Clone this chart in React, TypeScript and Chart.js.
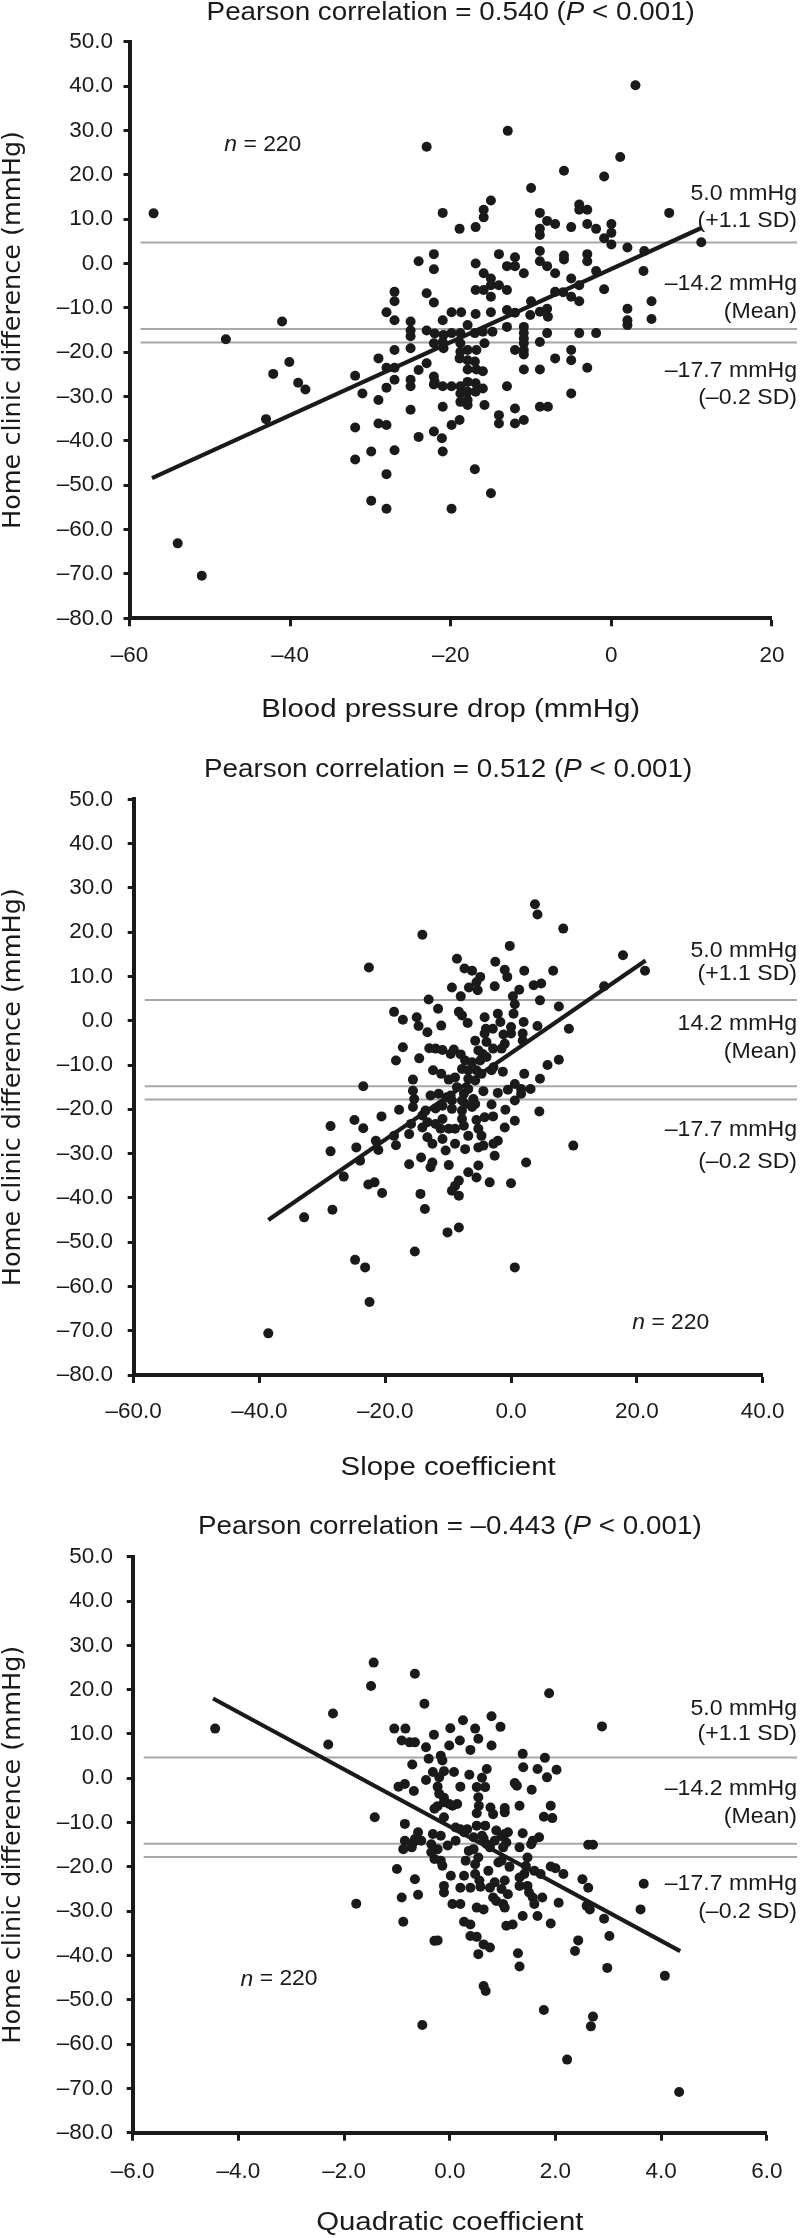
import React, { useEffect, useRef } from "react";
import { Chart, registerables } from "chart.js";

Chart.register(...registerables);

type Pt = [number, number];

// ---------- DATA ----------
const BP_DROP_POINTS: Pt[] = [
  [-57.0, 11.3], [-48.0, -17.1], [-41.0, -13.1], [3.0, 40.2], [-40.1, -22.2], [-42.1, -24.9], [-39.0, -26.9], [-38.1, -28.4], [-43.0, -35.1], [-54.0, -63.1], [-51.0, -70.4],
  [-12.9, 29.9], [-23.0, 26.3], [1.1, 24.0], [-5.9, 20.9], [-0.9, 19.6], [-10.0, 17.0], [-15.0, 14.2], [-4.0, 13.3], [-4.0, 12.1], [-3.0, 12.1], [-15.9, 12.1], [-15.9, 10.4], [-21.0, 11.4], [-8.9, 11.4], [7.2, 11.4], [-8.0, 9.6], [-7.0, 8.9], [-3.0, 8.9], [0.0, 8.9], [-16.9, 8.2], [-18.9, 7.8], [-8.9, 7.8], [-5.0, 8.2], [-1.9, 7.8], [0.0, 6.9], [-8.9, 6.4], [-0.9, 5.7], [11.2, 4.8], [0.0, 4.3], [2.0, 3.6], [4.1, 2.8], [-8.9, 2.8], [-14.0, 2.1], [-22.1, 2.1], [-5.9, 1.8], [-3.0, 2.1], [-5.9, 0.9], [-3.0, 0.5], [-24.0, 0.5], [-16.9, 0.0], [-12.0, 1.4], [-8.9, 0.5], [-12.0, -0.6], [-13.0, -0.6], [-8.0, -0.6], [-7.0, -2.2], [-10.9, -2.2], [-15.9, -2.2], [-22.1, -1.3], [4.0, -1.7], [-1.9, -1.7], [-5.0, -3.4], [-4.0, -4.9], [-15.0, -4.9], [-14.0, -4.9], [-13.0, -6.0], [-16.9, -6.0], [-15.9, -6.0], [-27.0, -6.4], [-7.0, -6.4], [-0.9, -5.8], [-23.0, -6.7], [-15.0, -7.5], [-5.0, -7.5], [-4.0, -8.5], [-10.0, -8.5], [-27.0, -8.5], [-22.1, -8.8], [5.0, -8.5], [2.0, -10.2], [-28.0, -11.0], [-13.0, -10.5], [-8.0, -10.2], [-19.9, -11.0], [-18.7, -11.0], [-15.0, -11.0], [-16.9, -11.4], [-7.9, -12.0], [5.0, -12.5], [2.0, -12.8], [-27.0, -12.8], [-21.0, -12.8], [-25.0, -13.1], [2.0, -13.9], [-17.9, -13.9], [-13.0, -14.3], [-10.9, -14.3], [-25.0, -15.1], [-23.0, -15.1], [-4.0, -15.7], [-1.9, -15.7], [-18.8, -15.7], [-19.9, -15.7], [-10.9, -15.7], [-17.0, -15.7], [-8.0, -15.7], [-25.0, -16.4], [-21.0, -17.7], [-18.8, -18.0], [-22.1, -18.0], [-10.9, -18.0], [-8.9, -17.7], [-15.8, -18.0], [-25.0, -19.1], [-27.0, -19.5], [-17.9, -19.5], [-16.8, -19.5], [-12.0, -19.5], [-10.9, -19.5], [-5.0, -19.5], [-18.8, -19.9], [-29.0, -21.4], [-7.0, -21.4], [-17.9, -21.8], [-5.0, -21.8], [-27.0, -23.5], [-28.0, -23.5], [-3.0, -23.5], [-10.9, -23.9], [-8.9, -23.9], [-17.9, -23.9], [-16.8, -23.9], [-23.0, -22.5], [-31.9, -25.3], [-22.1, -25.5], [-27.0, -26.2], [-25.0, -26.2], [-21.0, -27.7], [-19.9, -27.7], [-18.8, -27.7], [-28.0, -28.0], [-22.1, -27.3], [-25.0, -27.7], [-13.0, -27.7], [-17.9, -28.9], [-16.9, -27.0], [-16.9, -28.9], [-18.8, -29.3], [-31.0, -29.3], [-5.0, -29.3], [-29.0, -30.8], [-18.8, -31.2], [-17.9, -31.9], [-15.8, -31.9], [-21.0, -32.3], [-12.0, -32.7], [-8.9, -32.3], [-7.9, -32.3], [-25.0, -33.0], [-14.0, -34.2], [-10.9, -35.3], [-18.9, -35.3], [-29.0, -36.1], [-28.0, -36.4], [-19.9, -36.4], [-14.0, -36.1], [-12.0, -36.1], [-31.9, -37.0], [-22.1, -37.9], [-21.1, -39.4], [-24.0, -39.1], [-29.9, -42.4], [-27.0, -42.1], [-21.0, -42.4], [-31.9, -44.2], [-17.0, -46.4], [-28.0, -47.5], [-15.0, -51.8], [-29.9, -53.5], [-28.0, -55.3], [-19.9, -55.3],
  [-15.0, -3.4], [-6.0, -6.5], [-12.0, -11.1], [-8.9, -10.9], [-10.1, -11.6], [-22.0, -15.8], [-20.9, -16.1], [-16.0, -15.4], [-14.8, -15.4], [-10.9, -16.9], [-20.9, -19.1], [-10.9, -20.5], [-24.0, -24.0], [-18.9, -21.4], [-17.0, -22.1], [-16.0, -24.3], [-22.0, -26.7], [-17.9, -26.7], [-16.0, -28.2], [-17.9, -30.8],
];

const SLOPE_POINTS: Pt[] = [
  [3.8, 26.3], [4.2, 24.0], [8.3, 20.8], [-14.1, 19.4], [-0.2, 16.9], [17.8, 14.8], [-8.6, 14.0], [-2.5, 13.3], [-22.6, 12.0], [-7.4, 11.8], [-6.2, 11.3], [-1.0, 11.5], [2.1, 11.3], [6.7, 11.3], [21.3, 11.3], [-4.9, 9.9], [-0.6, 9.9], [-5.5, 8.7], [-6.7, 7.5], [-5.3, 6.9], [-2.6, 7.8], [-9.4, 7.5], [3.6, 8.0], [4.8, 8.4], [14.8, 7.8], [1.3, 7.0], [-8.0, 5.5], [0.3, 5.5], [-13.1, 4.8], [4.6, 4.6], [7.6, 3.2], [-11.6, 2.7], [0.6, 3.7], [-18.6, 2.0], [-8.3, 2.0], [-2.1, 1.6], [-7.8, 1.2], [-4.2, 0.8], [0.4, 1.6], [2.0, -0.3], [-17.2, 0.2], [-15.0, 0.8], [-11.1, -1.1], [-1.7, -0.3], [4.2, -1.2], [9.2, -1.8], [-13.3, -2.6], [-4.0, -1.8], [-4.2, -2.9], [-1.2, -3.1], [0.0, -1.4], [-5.7, -4.5], [-17.2, -6.0], [-13.0, -6.2], [-12.0, -6.3], [-10.9, -6.6], [-9.6, -7.5], [-8.0, -7.6], [-1.0, -5.2], [-1.5, -6.3], [-5.2, -6.7], [-4.5, -7.5], [-18.3, -9.0], [-14.6, -8.5], [-7.3, -9.0], [-6.2, -9.4], [-4.9, -9.0], [-3.9, -8.2], [7.6, -8.8], [5.8, -10.0], [-12.4, -11.2], [-11.1, -12.0], [-9.9, -13.3], [-7.8, -10.9], [-6.8, -11.2], [-5.5, -11.2], [-4.7, -12.0], [-2.8, -10.5], [-1.3, -11.5], [2.1, -12.0], [4.6, -13.1], [-15.6, -13.3], [-8.9, -12.8], [-6.8, -13.1], [-5.7, -13.5], [0.6, -14.3], [-23.5, -14.8], [-15.6, -15.8], [-15.4, -17.7], [-11.5, -16.5], [-10.2, -17.3], [-8.6, -15.0], [-6.8, -15.4], [-4.4, -15.9], [-2.1, -16.3], [-0.5, -15.6], [3.1, -15.4], [1.6, -15.4], [-9.4, -18.0], [-7.8, -18.0], [-6.0, -17.7], [0.6, -18.0], [-15.6, -19.5], [-10.9, -19.2], [-9.4, -19.9], [-7.8, -20.3], [-6.2, -19.5], [-3.1, -18.9], [-0.9, -20.1], [4.5, -20.5], [-17.8, -20.1], [-13.6, -20.3], [-20.6, -21.6], [-24.9, -22.4], [-28.7, -23.8], [-23.5, -24.3], [-10.9, -22.2], [-14.1, -21.4], [-4.2, -21.8], [-5.5, -22.4], [0.6, -22.6], [-15.9, -23.3], [-14.1, -24.1], [-12.0, -23.3], [-9.9, -24.4], [-7.5, -23.7], [-5.2, -24.4], [-16.2, -25.6], [-13.3, -26.3], [-12.5, -27.8], [-10.9, -26.7], [-8.9, -27.8], [-6.8, -26.0], [-4.7, -26.0], [-1.0, -24.1], [-2.1, -27.1], [-2.8, -27.8], [-7.3, -29.0], [-5.2, -28.6], [-21.5, -27.1], [-18.6, -26.0], [-21.1, -29.2], [-24.6, -28.6], [-28.7, -29.5], [-24.0, -31.6], [-16.2, -32.4], [-14.3, -30.9], [-12.8, -33.1], [-9.9, -32.6], [-5.2, -32.7], [2.4, -32.0], [9.9, -28.2], [-26.6, -35.2], [-6.8, -34.2], [-5.5, -35.4], [-8.3, -36.1], [-8.9, -37.3], [-3.4, -36.5], [0.0, -36.7], [-22.7, -37.0], [-21.7, -36.5], [-20.5, -38.9], [-9.4, -38.4], [-8.3, -39.5], [-14.4, -39.1], [-13.7, -42.5], [-28.4, -42.7], [-32.9, -44.4], [-8.3, -46.7], [-10.1, -47.8], [-15.3, -52.1], [-24.8, -54.0], [-23.2, -55.7], [0.6, -55.7], [-38.6, -70.6], [-22.5, -63.5],
  [-6.9, -0.5], [-14.7, -1.2], [-2.9, -1.8], [0.0, -2.9], [1.85, -2.9], [-9.1, -6.5], [-3.9, -4.8], [-2.85, -6.3], [1.85, -4.45], [-3.1, -11.2], [1.6, -16.5], [-12.8, -16.9], [-9.6, -16.9], [-7.5, -16.5], [-7.3, -18.8], [-5.7, -18.8], [-12.0, -19.8], [-2.85, -21.6], [-7.8, -22.2], [-13.3, -22.9], [-11.2, -24.4], [-8.9, -24.4], [-18.3, -28.1], [-10.4, -29.3], [-4.4, -28.2], [-12.5, -32.0], [-2.6, -30.5],
];

const QUADRATIC_POINTS: Pt[] = [
  [-1.44, 26.1], [-0.66, 23.6], [-1.49, 20.8], [1.88, 19.2], [-0.48, 16.8], [-2.21, 14.6], [0.79, 14.0], [0.25, 13.1], [0.96, 11.6], [2.88, 11.7], [-1.05, 11.2], [-0.84, 11.2], [0.01, 11.3], [0.48, 11.2], [-0.3, 9.8], [0.54, 8.9], [0.19, 8.5], [-0.91, 8.5], [-0.76, 8.1], [-0.66, 8.1], [-2.3, 7.6], [-0.45, 7.0], [0.79, 7.4], [0.39, 6.4], [1.38, 5.5], [1.8, 4.6], [-0.17, 5.1], [-0.4, 4.4], [-0.14, 4.0], [-0.71, 3.1], [1.39, 2.5], [1.66, 2.1], [2.02, 1.9], [0.7, 2.1], [-0.11, 1.6], [0.08, 1.4], [-0.32, 1.4], [0.37, 0.8], [1.84, 0.2], [0.61, 0.1], [-0.45, -0.4], [-0.2, 0.2], [-0.97, -1.9], [-0.85, -1.3], [-0.68, -2.9], [0.2, -1.9], [1.23, -1.1], [1.27, -1.7], [1.55, -2.6], [-0.23, -1.9], [0.67, -2.0], [0.51, -2.0], [-0.2, -3.5], [-0.11, -5.4], [0.14, -5.8], [0.05, -6.2], [-0.23, -6.3], [0.54, -4.3], [-0.11, -4.4], [0.77, -6.6], [1.04, -6.7], [1.32, -6.2], [1.91, -6.2], [-1.42, -8.8], [-0.29, -6.9], [-0.01, -5.8], [0.51, -7.9], [0.82, -8.1], [1.78, -8.7], [1.94, -9.0], [-0.11, -8.8], [-0.85, -10.3], [-0.6, -12.2], [-0.32, -12.6], [0.11, -11.1], [0.2, -11.5], [0.33, -11.5], [0.88, -11.8], [1.04, -12.6], [1.1, -12.2], [1.38, -12.4], [1.69, -13.3], [0.27, -12.2], [-0.85, -14.1], [-0.69, -14.5], [-0.54, -14.1], [0.64, -13.6], [0.85, -14.1], [1.57, -14.1], [0.11, -14.1], [0.45, -13.3], [0.7, -14.9], [-0.35, -14.9], [-0.23, -16.0], [0.36, -16.4], [0.45, -16.0], [0.76, -15.6], [1.01, -15.6], [1.32, -15.6], [1.54, -14.9], [2.62, -15.0], [2.71, -15.0], [-0.17, -18.6], [0.3, -18.6], [0.54, -17.9], [0.48, -19.4], [0.92, -19.0], [1.13, -20.0], [1.44, -19.8], [-1.0, -20.5], [1.91, -19.9], [2.0, -20.3], [1.41, -21.6], [-0.66, -22.8], [0.02, -22.0], [0.27, -22.0], [0.48, -21.6], [0.56, -23.1], [1.32, -22.4], [2.15, -21.6], [2.51, -22.8], [3.67, -23.8], [-0.11, -24.3], [0.2, -24.7], [0.39, -24.7], [0.58, -24.5], [0.76, -24.7], [1.04, -23.1], [1.47, -24.3], [1.5, -25.8], [2.62, -24.7], [-0.91, -26.9], [-0.6, -26.3], [-1.77, -28.3], [0.05, -28.4], [0.2, -28.4], [0.82, -26.9], [0.88, -27.7], [1.01, -28.4], [1.1, -26.2], [1.75, -26.9], [2.06, -28.1], [1.6, -28.4], [2.59, -28.8], [3.61, -29.6], [2.65, -29.6], [0.51, -29.2], [0.64, -29.6], [1.38, -31.1], [1.07, -33.3], [1.19, -33.0], [-0.88, -32.4], [0.27, -32.4], [0.39, -33.0], [1.91, -32.8], [2.92, -31.7], [0.39, -35.6], [0.51, -35.8], [0.64, -37.5], [0.76, -38.2], [-0.29, -36.7], [-0.23, -36.6], [3.02, -35.6], [2.43, -36.6], [2.37, -39.0], [0.54, -39.7], [1.29, -39.5], [1.32, -42.5], [2.98, -42.8], [4.07, -44.6], [0.64, -46.9], [0.68, -48.0], [1.78, -52.3], [2.71, -53.8], [2.67, -56.0], [-0.52, -55.7], [2.22, -63.5], [4.34, -70.8], [-4.44, 11.2],
  [-0.01, 7.4], [0.55, -6.2], [1.04, -7.7], [0.51, -10.7], [0.67, -10.7], [-0.66, -13.7], [-0.17, -13.0], [0.61, -13.0], [0.98, -13.1], [1.07, -14.5], [-0.88, -16.0], [-0.72, -15.6], [-0.35, -16.7], [-0.04, -15.2], [1.47, -17.9], [-0.29, -18.2], [-0.14, -19.75], [0.98, -18.6], [1.6, -20.9], [1.72, -21.6], [0.73, -20.9], [0.85, -23.5], [-0.11, -25.8], [0.98, -25.0], [1.32, -24.3], [1.57, -26.9], [1.04, -29.2], [1.66, -31.1],
];

// regression line end points
const BP_DROP_FIT: Pt[] = [[-57.2, -48.4], [11.2, 8.0]];
const SLOPE_FIT: Pt[] = [[-38.6, -45.0], [21.4, 13.6]];
const QUADRATIC_FIT: Pt[] = [[-4.48, 18.0], [4.36, -39.0]];

// horizontal reference lines (+1.1 SD, mean, -0.2 SD) as drawn
const REF_LINES = [4.7, -14.8, -17.8];

const TITLES: [string, boolean][][] = [
  [["Pearson correlation = 0.540 (", false], ["P", true], [" < 0.001)", false]],
  [["Pearson correlation = 0.512 (", false], ["P", true], [" < 0.001)", false]],
  [["Pearson correlation = \u20130.443 (", false], ["P", true], [" < 0.001)", false]],
];
const X_TITLES = ["Blood pressure drop (mmHg)", "Slope coefficient", "Quadratic coefficient"];
const Y_TITLE = "Home clinic difference (mmHg)";
const N_TEXT = "220";

const Y_MIN = -80, Y_MAX = 50, Y_STEP = 10;
const X_MINS = [-60, -60, -6];
const X_MAXS = [20, 40, 6];
const X_STEPS = [20, 20, 2];
const X_DECIMALS = [0, 1, 1];

// side annotation labels: [text, y value at which the label sits]
const SIDE_1: [string, number][] = [["5.0 mmHg", 15.7], ["(+1.1 SD)", 9.6], ["\u201314.2 mmHg", -4.6], ["(Mean)", -11.0], ["\u201317.7 mmHg", -24.2], ["(\u20130.2 SD)", -30.4]];
const SIDE_2: [string, number][] = [["5.0 mmHg", 15.8], ["(+1.1 SD)", 10.6], ["14.2 mmHg", -0.7], ["(Mean)", -7.1], ["\u201317.7 mmHg", -24.6], ["(\u20130.2 SD)", -32.0]];
const SIDE_3: [string, number][] = [["5.0 mmHg", 15.7], ["(+1.1 SD)", 10.0], ["\u201314.2 mmHg", -2.4], ["(Mean)", -8.8], ["\u201317.7 mmHg", -23.8], ["(\u20130.2 SD)", -30.1]];
const N_POS: Pt[] = [[-43.4, 26.7], [25.4, -68.2], [-3.23, -45.4]];

// ---------- LAYOUT ----------
const FONT = '"Liberation Sans", Arial, Helvetica, sans-serif';
const YFONT = '"DejaVu Sans", Verdana, sans-serif';
const INK = "#1a1a1a";
const GREY = "#a8a8a8";

const LAYOUT = [
  { top: 0, height: 740, left: 129.5, right: 782, chartTop: 41.7, chartBottom: 618.3, titleOff: 28.5, xTitleOff: 91.7, xPad: 15.5, yPad: 10.5 },
  { top: 740, height: 760, left: 133.7, right: 770.4, chartTop: 59.3, chartBottom: 635, titleOff: 29.3, xTitleOff: 93, xPad: 15.5, yPad: 14.7 },
  { top: 1500, height: 738, left: 132.7, right: 779, chartTop: 56.7, chartBottom: 632.7, titleOff: 29.5, xTitleOff: 90.3, xPad: 17.5, yPad: 13.7 },
];
const X_AXIS_H = 50;

const PANELS = [
  { points: BP_DROP_POINTS, fit: BP_DROP_FIT, side: SIDE_1 },
  { points: SLOPE_POINTS, fit: SLOPE_FIT, side: SIDE_2 },
  { points: QUADRATIC_POINTS, fit: QUADRATIC_FIT, side: SIDE_3 },
];

function fmt(v: number, d: number) {
  const s = Math.abs(v).toFixed(d);
  return (v < -1e-9 ? "\u2013" : "") + s;
}

// draws mixed upright/italic text, with a horizontal stretch factor sx
function drawRich(ctx: any, segs: [string, boolean][], x: number, y: number, size: number, sx: number, align: "center" | "right" | "left") {
  ctx.save();
  ctx.textBaseline = "middle";
  ctx.textAlign = "left";
  ctx.fillStyle = INK;
  const widths = segs.map(([t, it]) => {
    ctx.font = `${it ? "italic " : ""}${size}px ${FONT}`;
    return ctx.measureText(t).width * sx;
  });
  const total = widths.reduce((a, b) => a + b, 0);
  let cx = align === "center" ? x - total / 2 : align === "right" ? x - total : x;
  segs.forEach(([t, it], i) => {
    ctx.save();
    ctx.font = `${it ? "italic " : ""}${size}px ${FONT}`;
    ctx.translate(cx, y);
    ctx.scale(sx, 1);
    ctx.fillText(t, 0, 0);
    ctx.restore();
    cx += widths[i];
  });
  ctx.restore();
}

function makeDecor(i: number) {
  const L = LAYOUT[i];
  const P = PANELS[i];
  return {
    id: "decor" + i,
    beforeDatasetsDraw(chart: any) {
      const { ctx, chartArea: a, scales } = chart;
      ctx.save();
      ctx.strokeStyle = GREY;
      ctx.lineWidth = 2;
      REF_LINES.forEach((v) => {
        const y = scales.y.getPixelForValue(v);
        ctx.beginPath();
        ctx.moveTo(a.left + 11, y);
        ctx.lineTo(797, y);
        ctx.stroke();
      });
      ctx.restore();
    },
    afterDraw(chart: any) {
      const { ctx, chartArea: a, scales } = chart;
      const cx = (a.left + a.right) / 2;
      drawRich(ctx, TITLES[i], cx, a.top - L.titleOff, 25.5, 1.09, "center");
      drawRich(ctx, [[X_TITLES[i], false]], cx, a.bottom + L.xTitleOff, 26, 1.13, "center");
      ctx.save();
      ctx.translate(13, (a.top + a.bottom) / 2);
      ctx.rotate(-Math.PI / 2);
      ctx.font = `25.5px ${YFONT}`;
      ctx.textAlign = "center";
      ctx.textBaseline = "middle";
      ctx.fillStyle = INK;
      ctx.fillText(Y_TITLE, 0, 0);
      ctx.restore();
      P.side.forEach(([t, v]) => drawRich(ctx, [[t, false]], 797, scales.y.getPixelForValue(v), 22, 1.05, "right"));
      const [nx, ny] = N_POS[i];
      drawRich(ctx, [["n", true], [" = " + N_TEXT, false]], scales.x.getPixelForValue(nx), scales.y.getPixelForValue(ny), 22, 1.04, "center");
    },
  };
}

function Panel({ index }: { index: number }) {
  const ref = useRef<HTMLCanvasElement | null>(null);
  const L = LAYOUT[index];
  useEffect(() => {
    const P = PANELS[index];
    const tickFont = { family: FONT, size: 22.5 };
    const chart = new Chart(ref.current as HTMLCanvasElement, {
      type: "scatter",
      data: {
        datasets: [
          {
            type: "line",
            data: P.fit.map(([x, y]) => ({ x, y })),
            borderColor: INK,
            borderWidth: 4.2,
            pointRadius: 0,
            fill: false,
            tension: 0,
            order: 0,
          } as any,
          {
            type: "scatter",
            data: P.points.map(([x, y]) => ({ x, y })),
            pointRadius: 5,
            pointHoverRadius: 5,
            pointBackgroundColor: INK,
            pointBorderWidth: 0,
            order: 1,
          } as any,
        ],
      },
      options: {
        responsive: false,
        animation: false,
        devicePixelRatio: 1,
        layout: {
          padding: { left: 0, right: 800 - L.right, top: L.chartTop, bottom: L.height - L.chartBottom - X_AXIS_H },
        },
        plugins: { legend: { display: false }, tooltip: { enabled: false }, title: { display: false } },
        scales: {
          x: {
            type: "linear",
            position: "bottom",
            min: X_MINS[index],
            max: X_MAXS[index],
            afterFit: (s: any) => { s.height = X_AXIS_H; },
            ticks: {
              stepSize: X_STEPS[index],
              autoSkip: false,
              maxRotation: 0,
              padding: L.xPad,
              color: INK,
              font: tickFont,
              callback: (v: any) => fmt(Number(v), X_DECIMALS[index]),
            },
            grid: { display: true, drawOnChartArea: false, drawTicks: true, tickLength: 8, tickWidth: 3, tickColor: INK, color: INK },
            border: { display: true, width: 4, color: INK },
          },
          y: {
            type: "linear",
            position: "left",
            min: Y_MIN,
            max: Y_MAX,
            afterFit: (s: any) => { s.width = L.left; },
            ticks: {
              stepSize: Y_STEP,
              autoSkip: false,
              padding: L.yPad,
              color: INK,
              font: tickFont,
              callback: (v: any) => fmt(Number(v), 1),
            },
            grid: { display: true, drawOnChartArea: false, drawTicks: true, tickLength: 6, tickWidth: 3, tickColor: INK, color: INK },
            border: { display: true, width: 4, color: INK },
          },
        },
      } as any,
      plugins: [makeDecor(index)],
    });
    return () => chart.destroy();
  }, [index]);
  return (
    <canvas
      ref={ref}
      width={800}
      height={L.height}
      style={{ position: "absolute", left: 0, top: L.top, width: 800, height: L.height }}
    />
  );
}

export default function App() {
  return (
    <div style={{ position: "absolute", left: 0, top: 0, width: 800, height: 2238, background: "#ffffff", overflow: "hidden" }}>
      {PANELS.map((_, i) => (
        <Panel key={i} index={i} />
      ))}
    </div>
  );
}
